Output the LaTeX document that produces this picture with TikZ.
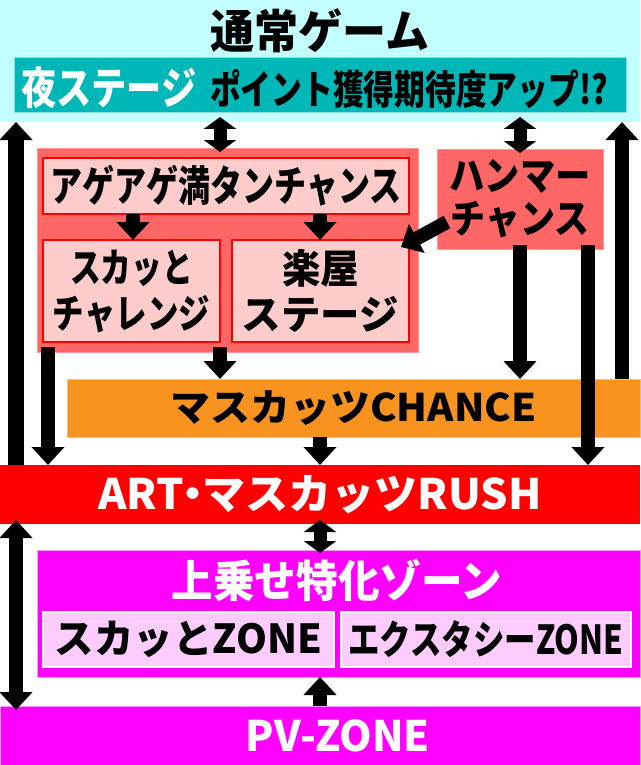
\documentclass[tikz,border=0pt]{standalone}
\usepackage{fontspec}
\usepackage{graphicx}
\setmainfont{Noto Sans CJK JP}
\usetikzlibrary{arrows.meta}
\definecolor{himmel}{HTML}{C4FFFF}
\definecolor{petrol}{HTML}{00B7B7}
\definecolor{lachs}{HTML}{FF6666}
\definecolor{rosa}{HTML}{FFCCCC}
\definecolor{orange}{HTML}{F7931E}
\definecolor{lila}{HTML}{FF00FF}
\definecolor{hlila}{HTML}{FFCCFF}
%% Zeile auf feste Breite stauchen
\newcommand{\jl}[2]{\resizebox{#1}{\height}{#2}}
\begin{document}
\begin{tikzpicture}[x=1pt,y=-1pt,
  >={Triangle[width=32pt,length=18pt]},
  box/.style={inner sep=0pt,outer sep=0pt,anchor=north west,line width=1pt},
  lbl/.style 2 args={inner sep=0pt,align=center,font=\bfseries\fontsize{#1}{#2}\selectfont},
  pfeil/.style={line width=14pt,->},
  dpfeil/.style={line width=13pt,arrows={Triangle[width=32pt,length=12pt]-Triangle[width=32pt,length=12pt]}}]
\useasboundingbox (0,0) rectangle (640,765);
%% Spalten der Pfeile
\coordinate (xL) at (16,0);
\coordinate (xG) at (48,0);
\coordinate (xS) at (133,0);
\coordinate (xK) at (220,0);
\coordinate (xM) at (320,0);
\coordinate (xH) at (520,0);
\coordinate (xR) at (588,0);
\coordinate (xE) at (622,0);
%% Normalspiel
\node[box,fill=himmel,minimum width=640pt,minimum height=122pt] (normal) at (0,0) {};
\node[lbl={46}{46}] (normalttl) at (320,31) {\jl{219pt}{通常ゲーム}};
\node[box,fill=petrol,draw=petrol!45!white,minimum width=612pt,minimum height=55pt] (nightbar) at (14,58) {};
\node[lbl={44}{44},text=white] (nightttl) at (109,88) {\jl{175pt}{夜ステージ}};
\node[lbl={40}{40}] (pointttl) at (409,89) {\jl{398pt}{ポイント獲得期待度アップ!?}};
%% Linker Block
\node[box,fill=lachs,draw=lachs!70!white,minimum width=381pt,minimum height=204pt] (agegrp) at (37,148) {};
\node[box,fill=rosa,draw=red,line width=1.5pt,minimum width=366pt,minimum height=56pt] (ageage) at (43,158) {};
\node[lbl={42}{42}] at (ageage.center) {\jl{351pt}{アゲアゲ満タンチャンス}};
\node[box,fill=rosa,draw=red,line width=1.5pt,minimum width=177pt,minimum height=102pt] (skachal) at (43,240) {};
\node[lbl={40}{46}] at (skachal.center) {\jl{123pt}{スカッと}\\\jl{157pt}{チャレンジ}};
\node[box,fill=rosa,draw=red,line width=1.5pt,minimum width=177pt,minimum height=102pt] (gaku) at (232,240) {};
\node[lbl={40}{46}] at (gaku.center) {\jl{77pt}{楽屋}\\\jl{157pt}{ステージ}};
%% Hammer
\node[box,fill=lachs,draw=lachs!70!white,minimum width=166pt,minimum height=100pt] (hammer) at (437,149) {};
\node[lbl={40}{43}] at (hammer.center) {\jl{141pt}{ハンマー}\\\jl{139pt}{チャンス}};
%% Balken
\node[box,fill=orange,draw=orange!60!white,minimum width=573pt,minimum height=58pt] (chance) at (67,379) {};
\node[lbl={38}{38}] at (chance.center) {\jl{366pt}{マスカッツCHANCE}};
\node[box,fill=red,minimum width=640pt,minimum height=59pt] (rush) at (0,465) {};
\node[lbl={42}{42},text=white] at (rush.center) {\jl{443pt}{ART\kern-12pt・\kern-12pt マスカッツRUSH}};
%% Zonen
\node[box,fill=lila,draw=lila!40!white,minimum width=603pt,minimum height=127pt] (uwanose) at (37,550) {};
\node[lbl={44}{44},text=white] (uwanosettl) at (337,580) {\jl{331pt}{上乗せ特化ゾーン}};
\node[box,fill=hlila,draw=white,line width=1.5pt,minimum width=291pt,minimum height=55pt] (skazone) at (43,612) {};
\node[lbl={40}{40}] at (skazone.center) {\jl{267pt}{スカッとZONE}};
\node[box,fill=hlila,draw=white,line width=1.5pt,minimum width=290pt,minimum height=55pt] (ecstasy) at (341,612) {};
\node[lbl={40}{40}] at (ecstasy.center) {\jl{275pt}{エクスタシーZONE}};
\node[box,fill=lila,draw=lila!40!white,minimum width=640pt,minimum height=59pt] (pv) at (0,706) {};
\node[lbl={42}{42},text=white] (pvttl) at (338,736) {\jl{184pt}{PV-ZONE}};
%% Pfeile
\draw[pfeil,line width=16pt] (rush.north -| xL) -- (normal.south -| xL);
\draw[dpfeil] ([yshift=-4pt]nightbar.south -| xK) -- ([yshift=-4pt]agegrp.north -| xK);
\draw[dpfeil] ([yshift=-4pt]nightbar.south -| xH) -- ([yshift=-4pt]hammer.north -| xH);
\draw[pfeil] (chance.north -| xE) -- (normal.south -| xE);
\draw[pfeil] (ageage.south -| xS) -- (skachal.north -| xS);
\draw[pfeil] (ageage.south -| xM) -- (gaku.north -| xM);
\draw[pfeil] ([shift={(10,-27)}]hammer.south west) -- ([shift={(-8,7)}]gaku.north east);
\draw[pfeil] ([yshift=5pt]agegrp.south -| xG) -- (rush.north -| xG);
\draw[pfeil] ([yshift=5pt]agegrp.south -| xK) -- (chance.north -| xK);
\draw[pfeil] ([yshift=4pt]hammer.south -| xH) -- (chance.north -| xH);
\draw[pfeil] ([yshift=4pt]hammer.south -| xR) -- (rush.north -| xR);
\draw[pfeil] (chance.south -| xM) -- (rush.north -| xM);
\draw[dpfeil] ([yshift=4pt]rush.south -| xM) -- ([yshift=-3pt]uwanose.north -| xM);
\draw[dpfeil,line width=14pt,arrows={Triangle[width=32pt,length=18pt]-Triangle[width=32pt,length=18pt]}] ([yshift=4pt]rush.south -| xL) -- ([yshift=-4pt]pv.north -| xL);
\draw[pfeil] (pv.north -| xM) -- (uwanose.south -| xM);
\end{tikzpicture}
\end{document}
